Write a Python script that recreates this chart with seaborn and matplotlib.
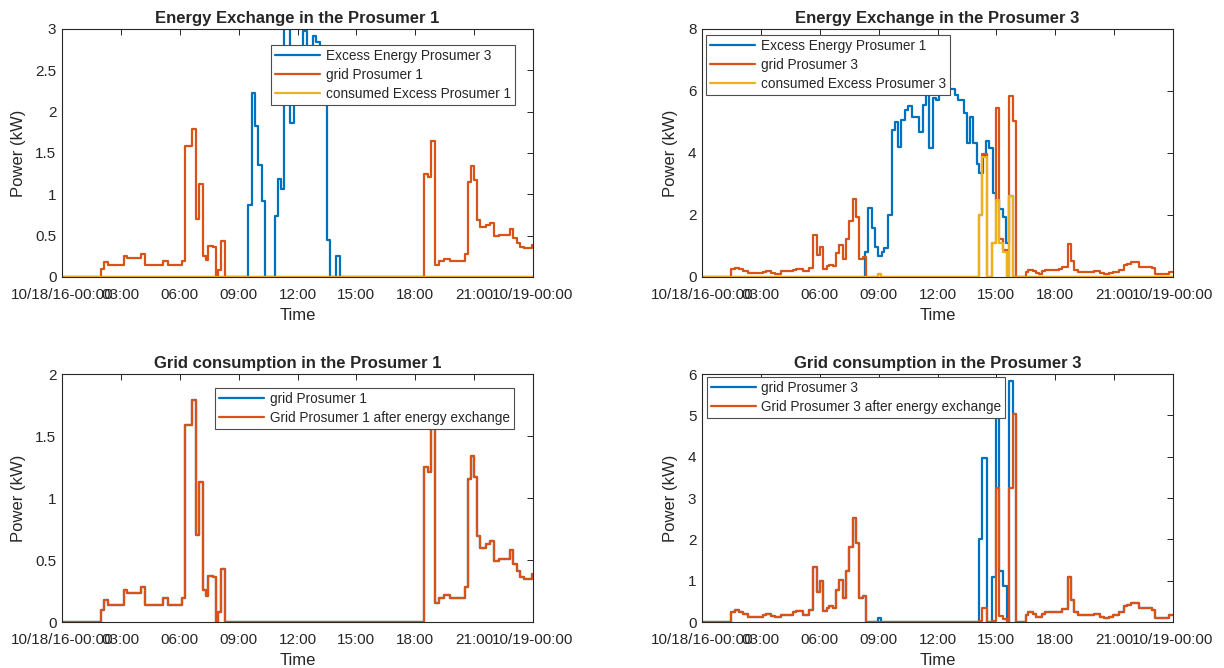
import matplotlib
matplotlib.use("Agg")
import matplotlib.pyplot as plt
import seaborn as sns

# ---- data (hours of day, kW) -- step series, value holds until next time ----
hour_ticks = [0, 3, 6, 9, 12, 15, 18, 21, 24]
hour_labels = ['10/18/16-00:00', '03:00', '06:00', '09:00', '12:00',
               '15:00', '18:00', '21:00', '10/19-00:00']

# Prosumer 1
t_excess3 = [0, 9.5, 9.67, 9.84, 10.0, 10.17, 10.33, 10.83, 11.0, 11.17, 11.33,
             11.62, 11.83, 12.27, 12.47, 12.77, 12.94, 13.15, 13.49, 13.66,
             13.97, 14.17, 24]
v_excess3 = [0, 0.87, 2.23, 1.83, 1.35, 0.92, 0, 0.74, 1.19, 1.07, 3.4,
             1.86, 2.6, 2.97, 2.6, 2.92, 2.84, 2.5, 0.45, 0,
             0.25, 0, 0]

t_grid1 = [0, 1.98, 2.15, 2.32, 3.14, 3.31, 4.05, 4.25, 5.17, 5.38, 6.1, 6.27,
           6.6, 6.82, 6.99, 7.16, 7.33, 7.46, 7.67, 7.84, 7.97, 8.11, 8.31,
           18.46, 18.63, 18.82, 19.0, 19.19, 19.44, 19.78, 20.54, 20.71, 20.83,
           21.0, 21.17, 21.3, 21.61, 21.81, 22.02, 22.29, 22.83, 23.0, 23.17,
           23.34, 23.54, 23.97, 24]
v_grid1 = [0, 0.10, 0.18, 0.14, 0.26, 0.23, 0.28, 0.14, 0.19, 0.14, 0.19, 1.59,
           1.79, 0.70, 1.13, 0.26, 0.21, 0.37, 0.36, 0, 0.08, 0.43, 0,
           1.25, 1.21, 1.645, 0.15, 0.19, 0.22, 0.19, 0.28, 1.15, 1.34,
           1.17, 0.69, 0.60, 0.63, 0.65, 0.49, 0.51, 0.58, 0.47, 0.41,
           0.36, 0.35, 0.39, 0.39]
v_grid1_after = [0, 0.10, 0.18, 0.14, 0.26, 0.23, 0.28, 0.14, 0.19, 0.14, 0.19, 1.59,
                 1.79, 0.70, 1.13, 0.26, 0.21, 0.37, 0.36, 0, 0.08, 0.43, 0,
                 1.25, 1.21, 1.645, 0.15, 0.19, 0.22, 0.19, 0.28, 1.15, 1.34,
                 1.17, 0.69, 0.60, 0.63, 0.65, 0.49, 0.51, 0.58, 0.47, 0.41,
                 0.36, 0.35, 0.39, 0.39]

t_consumed1 = [0, 24]
v_consumed1 = [0, 0]

# Prosumer 3
t_excess1 = [0, 8.31, 8.47, 8.64, 8.81, 8.98, 9.15, 9.29, 9.49, 9.68, 9.81, 9.98,
             10.15, 10.32, 10.49, 10.69, 11.08, 11.25, 11.42, 11.59, 11.76, 11.93,
             12.1, 12.3, 12.6, 12.9, 13.07, 13.37, 13.49, 13.66, 13.83, 14.0,
             14.14, 14.3, 14.47, 14.64, 14.81, 14.98, 15.15, 15.32, 15.49, 15.66,
             15.83, 24]
v_excess1 = [0, 0.82, 2.24, 1.57, 0.96, 0.69, 0.82, 0.95, 2.0, 4.74, 5.01, 4.2,
             5.06, 5.39, 5.52, 5.17, 4.69, 5.55, 5.98, 4.15, 5.76, 5.71,
             6.1, 6.0, 6.05, 5.87, 5.71, 5.28, 4.33, 5.17, 4.33, 3.63,
             3.34, 3.9, 4.39, 4.15, 2.7, 2.5, 2.2, 1.95, 1.09, 2.62,
             0, 0]

t_grid3 = [0, 1.49, 1.66, 1.88, 2.08, 2.34, 3.1, 3.27, 3.53, 3.7, 4.0, 4.63, 4.8,
           5.14, 5.47, 5.64, 5.86, 6.0, 6.15, 6.36, 6.49, 6.66, 6.83, 7.0, 7.17,
           7.34, 7.51, 7.68, 7.85, 8.02, 8.19, 8.36, 8.95, 9.12,
           14.12, 14.29, 14.51, 14.8, 14.97, 15.14, 15.36, 15.53, 15.64, 15.85,
           16.0, 16.49, 16.63, 16.86, 17.0, 17.17, 17.34, 17.47, 18.2, 18.32,
           18.66, 18.8, 18.97, 19.14, 19.29, 19.97, 20.3, 20.47, 20.73, 20.93,
           21.24, 21.49, 21.66, 21.88, 22.26, 22.93, 23.1, 23.78, 24]
v_grid3 = [0, 0.25, 0.30, 0.25, 0.19, 0.13, 0.16, 0.19, 0.14, 0.11, 0.18, 0.23, 0.26,
           0.18, 0.28, 1.34, 0.72, 0.98, 0.26, 0.34, 0.39, 0.34, 0.77, 1.02, 0.58,
           1.23, 1.82, 2.52, 1.92, 0.58, 0.64, 0, 0.09, 0,
           2.0, 3.97, 0, 1.1, 5.44, 1.24, 0.88, 0, 5.84, 5.04,
           0, 0.17, 0.23, 0.19, 0.13, 0.11, 0.19, 0.24, 0.25, 0.31,
           1.08, 0.53, 0.23, 0.17, 0.16, 0.2, 0.13, 0.09, 0.13, 0.16,
           0.24, 0.39, 0.42, 0.47, 0.33, 0.29, 0.09, 0.17, 0.17]
v_grid3_after = [0, 0.25, 0.30, 0.25, 0.19, 0.13, 0.16, 0.19, 0.14, 0.11, 0.18, 0.23, 0.26,
                 0.18, 0.28, 1.34, 0.72, 0.98, 0.26, 0.34, 0.39, 0.34, 0.77, 1.02, 0.58,
                 1.23, 1.82, 2.52, 1.92, 0.58, 0.64, 0, 0, 0,
                 0.03, 0.35, 0, 0.02, 3.24, 0.15, 0.08, 0, 3.24, 5.04,
                 0, 0.17, 0.23, 0.19, 0.13, 0.11, 0.19, 0.24, 0.25, 0.31,
                 1.08, 0.53, 0.23, 0.17, 0.16, 0.2, 0.13, 0.09, 0.13, 0.16,
                 0.24, 0.39, 0.42, 0.47, 0.33, 0.29, 0.09, 0.17, 0.17]

t_consumed3 = [0, 8.95, 9.12, 14.12, 14.29, 14.51, 14.8, 14.97, 15.14, 15.36,
               15.53, 15.64, 15.85, 24]
v_consumed3 = [0, 0.09, 0, 2.0, 3.88, 0, 1.09, 2.48, 1.09, 0.8,
               0, 2.62, 0, 0]

# MATLAB default colours
c_blue = '#0072BD'
c_red = '#D95319'
c_yellow = '#EDB120'

sns.set_style('white')
plt.rcParams['font.family'] = ['Liberation Sans', 'DejaVu Sans']
plt.rcParams['axes.edgecolor'] = '0.15'
plt.rcParams['axes.linewidth'] = 0.8

fig = plt.figure(figsize=(12.24, 6.68), dpi=100)
W, H = 1224, 668


def make_ax(left, top, right, bottom):
    return fig.add_axes([left / W, 1 - bottom / H, (right - left) / W, (bottom - top) / H])


def panel(ax, series, ylim, yticks, ytick_labels, title, leg_anchor):
    for label, t, v, color in series:
        sns.lineplot(x=t, y=v, ax=ax, color=color, linewidth=1.6, label=label,
                     drawstyle='steps-post', estimator=None, sort=False)
    ax.set_xlim(0, 24)
    ax.set_ylim(*ylim)
    ax.set_xticks(hour_ticks)
    ax.set_xticklabels(hour_labels)
    ax.set_yticks(yticks)
    ax.set_yticklabels(ytick_labels)
    ax.tick_params(direction='in', top=True, right=True, length=4, width=0.7,
                   labelsize=11, colors='0.15', labelcolor='0.15')
    ax.tick_params(axis='x', pad=8)
    ax.tick_params(axis='y', pad=4)
    for s in ax.spines.values():
        s.set_visible(True)
    ax.set_title(title, fontsize=12, fontweight='bold', pad=4)
    ax.set_xlabel('Time', fontsize=12, color='0.15', labelpad=4)
    ax.set_ylabel('Power (kW)', fontsize=12, color='0.15', labelpad=7)
    leg = ax.legend(loc='upper left', bbox_to_anchor=leg_anchor, frameon=True,
                    fancybox=False, edgecolor='0.3', framealpha=1, fontsize=9.8,
                    handlelength=3.3, labelspacing=0.36, borderpad=0.3,
                    handletextpad=0.4, borderaxespad=0)
    leg.get_frame().set_linewidth(0.8)


ax1 = make_ax(62, 29, 533, 277)
panel(ax1,
      [('Excess Energy Prosumer 3', t_excess3, v_excess3, c_blue),
       ('grid Prosumer 1', t_grid1, v_grid1, c_red),
       ('consumed Excess Prosumer 1', t_consumed1, v_consumed1, c_yellow)],
      (0, 3), [0, 0.5, 1, 1.5, 2, 2.5, 3], ['0', '0.5', '1', '1.5', '2', '2.5', '3'],
      'Energy Exchange in the Prosumer 1', (0.444, 0.935))

ax2 = make_ax(702, 29, 1173, 277)
panel(ax2,
      [('Excess Energy Prosumer 1', t_excess1, v_excess1, c_blue),
       ('grid Prosumer 3', t_grid3, v_grid3, c_red),
       ('consumed Excess Prosumer 3', t_consumed3, v_consumed3, c_yellow)],
      (0, 8), [0, 2, 4, 6, 8], ['0', '2', '4', '6', '8'],
      'Energy Exchange in the Prosumer 3', (0.009, 0.976))

ax3 = make_ax(62, 374, 533, 622)
panel(ax3,
      [('grid Prosumer 1', t_grid1, v_grid1, c_blue),
       ('Grid Prosumer 1 after energy exchange', t_grid1, v_grid1_after, c_red)],
      (0, 2), [0, 0.5, 1, 1.5, 2], ['0', '0.5', '1', '1.5', '2'],
      'Grid consumption in the Prosumer 1', (0.325, 0.944))

ax4 = make_ax(702, 374, 1173, 622)
panel(ax4,
      [('grid Prosumer 3', t_grid3, v_grid3, c_blue),
       ('Grid Prosumer 3 after energy exchange', t_grid3, v_grid3_after, c_red)],
      (0, 6), [0, 1, 2, 3, 4, 5, 6], ['0', '1', '2', '3', '4', '5', '6'],
      'Grid consumption in the Prosumer 3', (0.01, 0.989))

fig.savefig('out.png', dpi=100)
